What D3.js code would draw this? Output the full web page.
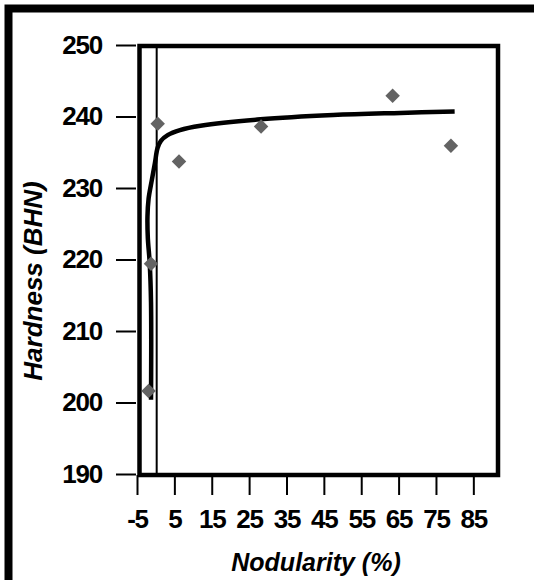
<!DOCTYPE html>
<html lang="en">
<head>
    <meta charset="UTF-8">
    <title>Hardness vs Nodularity</title>
    <style>
        body {
            margin: 0;
            padding: 0;
            background: #fff;
        }

        svg {
            display: block;
            font-family: "Liberation Sans", Arial, sans-serif;
        }

        .tick text {
            font-size: 26px;
            font-weight: bold;
            letter-spacing: -1.2px;
            fill: #000;
        }

        .tick line {
            stroke: #000;
            stroke-width: 2px;
        }

        .axis-title {
            font-size: 25px;
            font-weight: bold;
            font-style: italic;
            fill: #000;
        }
    </style>
</head>
<body>
<svg id="chart" width="534" height="580"></svg>

<script src="https://d3js.org/d3.v7.min.js"></script>
<script>
    // measured points
    var nodularity = [-1.9, -1.25, 0.54, 6.24, 28.2, 63.4, 79.0];
    var hardness = [201.6, 219.4, 239.0, 233.7, 238.6, 242.9, 235.9];

    // fitted curve
    var fitX = [-1.25, -1.25, -1.6, -2.1, -2.2, -1.9, -1.0, -0.2, 0.5, 1.4, 3.2, 6.5, 12, 28, 47.5, 65.5, 80];
    var fitY = [200.4, 214, 219.5, 223, 226, 228.5, 231.2, 233.5, 235.6, 236.6, 237.4, 238.1, 238.7, 239.6, 240.2, 240.5, 240.7];

    var xTicks = [-5, 5, 15, 25, 35, 45, 55, 65, 75, 85];
    var yTicks = [190, 200, 210, 220, 230, 240, 250];

    var svg = d3.select("#chart");

    // outer border (runs off the right and bottom edges)
    svg.append("rect")
        .attr("x", 8.5)
        .attr("y", 8.5)
        .attr("width", 700)
        .attr("height", 700)
        .attr("fill", "#fff")
        .attr("stroke", "#000")
        .attr("stroke-width", 8);

    var x = d3.scaleLinear().domain([-5, 91.6]).range([137, 498]);
    var y = d3.scaleLinear().domain([190, 250]).range([474, 45]);

    // x axis
    svg.append("g")
        .attr("transform", "translate(0,475)")
        .call(d3.axisBottom(x).tickValues(xTicks).tickSize(20).tickPadding(15).tickFormat(d => String(d)))
        .call(g => g.select(".domain").remove())
        .call(g => g.selectAll("text").attr("font-family", null).attr("font-size", null));

    // y axis
    svg.append("g")
        .attr("transform", "translate(136,0)")
        .call(d3.axisLeft(y).tickValues(yTicks).tickSize(20).tickPadding(14).tickFormat(d => String(d)))
        .call(g => g.select(".domain").remove())
        .call(g => g.selectAll("text").attr("font-family", null).attr("font-size", null));

    // plot area frame
    svg.append("rect")
        .attr("x", x(-5) + 2.5)
        .attr("y", y(250) + 1)
        .attr("width", x(91.6) - x(-5) - 2.5)
        .attr("height", y(190) - y(250))
        .attr("fill", "none")
        .attr("stroke", "#000")
        .attr("stroke-width", 4.5);

    // thin vertical line at zero
    svg.append("line")
        .attr("x1", x(0) + 1)
        .attr("x2", x(0) + 1)
        .attr("y1", y(250) + 1)
        .attr("y2", y(190))
        .attr("stroke", "#000")
        .attr("stroke-width", 2);

    // fitted curve
    var line = d3.line()
        .x((d, i) => x(fitX[i]))
        .y((d, i) => y(fitY[i]))
        .curve(d3.curveCatmullRom.alpha(0.5));

    svg.append("path")
        .attr("d", line(fitX))
        .attr("fill", "none")
        .attr("stroke", "#000")
        .attr("stroke-width", 4.5);

    // diamonds
    svg.selectAll(".pt")
        .data(nodularity)
        .enter().append("path")
        .attr("class", "pt")
        .attr("d", d3.symbol().type(d3.symbolSquare).size(105))
        .attr("transform", (d, i) => "translate(" + x(d) + "," + y(hardness[i]) + ") rotate(45)")
        .attr("fill", "#636363");

    // axis titles
    svg.append("text")
        .attr("class", "axis-title")
        .attr("x", 316)
        .attr("y", 571)
        .attr("text-anchor", "middle")
        .text("Nodularity (%)");

    svg.append("text")
        .attr("class", "axis-title")
        .attr("transform", "translate(42,281) rotate(-90)")
        .attr("text-anchor", "middle")
        .style("font-size", "26px")
        .text("Hardness (BHN)");
</script>
</body>
</html>
